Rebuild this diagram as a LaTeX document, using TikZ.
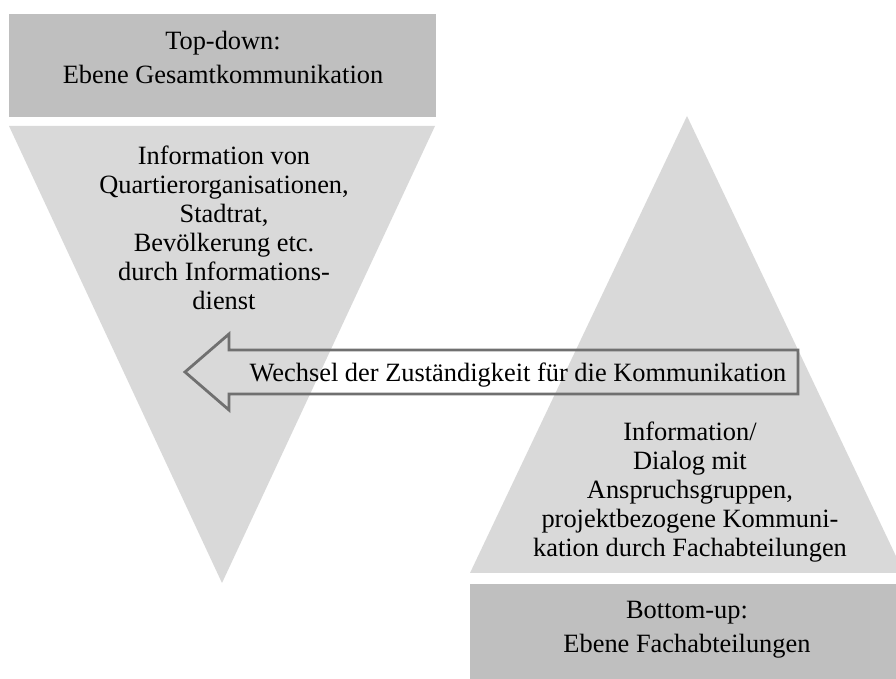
\documentclass[tikz,border=0pt]{standalone}
\usepackage{fontspec}
\setmainfont{Liberation Serif}
\definecolor{boxgray}{RGB}{191,191,191}
\definecolor{trigray}{RGB}{217,217,217}
\definecolor{arrowgray}{RGB}{112,112,112}
\begin{document}
\begin{tikzpicture}[x=0.5pt,y=-0.5pt,
  txt/.style={font=\fontsize{13.2}{14.5}\selectfont, align=center, inner sep=0pt},
  boxtxt/.style={font=\fontsize{13.2}{17}\selectfont, align=center, inner sep=0pt},
  outlinearrow/.style={draw=arrowgray, line width=1.4pt, line join=miter}]
\useasboundingbox (0,0) rectangle (896,679);
\clip (0,0) rectangle (896,679);
% shapes
\fill[boxgray] (9,14) rectangle (436,117);
\fill[trigray] (9,126) -- (435,126) -- (222,583) -- cycle;
\fill[trigray] (687,116) -- (904,573) -- (470,573) -- cycle;
\fill[boxgray] (470,584) rectangle (904,690);
% texts
\node[boxtxt] (top) at (223,57) {Top-down:\\Ebene Gesamtkommunikation};
\node[txt] (lt) at (224,228) {Information von\\Quartierorganisationen,\\Stadtrat,\\Bevölkerung etc.\\durch Informations-\\dienst};
\node[txt] (rt) at (690,492) {Information/\\Dialog mit\\Anspruchsgruppen,\\projektbezogene Kommuni-\\kation durch Fachabteilungen};
\node[boxtxt] (bot) at (687,630) {Bottom-up:\\Ebene Fachabteilungen};
% arrow
\draw[outlinearrow] (185,372) -- (229,334) -- (229,350) -- (798,350) -- (798,394) -- (229,394) -- (229,410) -- cycle;
\node[txt, anchor=base] (arr) at (518,382) {Wechsel der Zuständigkeit für die Kommunikation};
\end{tikzpicture}
\end{document}
